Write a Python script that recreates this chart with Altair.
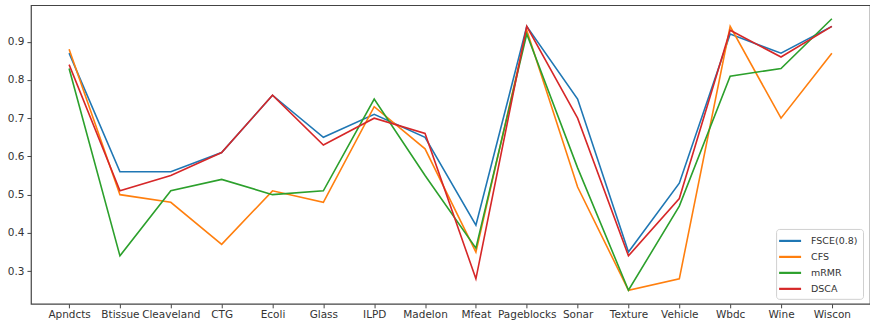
import altair as alt
import pandas as pd

# Accuracy of four feature-selection methods on sixteen datasets
datasets = ["Apndcts", "Btissue", "Cleaveland", "CTG", "Ecoli", "Glass", "ILPD",
            "Madelon", "Mfeat", "Pageblocks", "Sonar", "Texture", "Vehicle",
            "Wbdc", "Wine", "Wiscon"]
methods = ["FSCE(0.8)", "CFS", "mRMR", "DSCA"]
colors = ["#1f77b4", "#ff7f0e", "#2ca02c", "#d62728"]

fsce = [0.87, 0.56, 0.56, 0.61, 0.76, 0.65, 0.71, 0.65, 0.42, 0.94, 0.75, 0.35, 0.53, 0.92, 0.87, 0.94]
cfs = [0.88, 0.50, 0.48, 0.37, 0.51, 0.48, 0.73, 0.62, 0.35, 0.93, 0.52, 0.25, 0.28, 0.94, 0.70, 0.87]
mrmr = [0.83, 0.34, 0.51, 0.54, 0.50, 0.51, 0.75, 0.55, 0.36, 0.92, 0.57, 0.25, 0.47, 0.81, 0.83, 0.96]
dsca = [0.84, 0.51, 0.55, 0.61, 0.76, 0.63, 0.70, 0.66, 0.28, 0.94, 0.70, 0.34, 0.49, 0.93, 0.86, 0.94]

y_ticks = [0.3, 0.4, 0.5, 0.6, 0.7, 0.8, 0.9]

rows = []
for order, (name, vals) in enumerate(zip(methods, [fsce, cfs, mrmr, dsca])):
    for ds, v in zip(datasets, vals):
        rows.append({"dataset": ds, "method": name, "value": v, "order": order})
df = pd.DataFrame(rows)

font = "DejaVu Sans"

chart = alt.Chart(df).mark_line(strokeWidth=1.6).encode(
    x=alt.X("dataset:N", sort=datasets,
            scale=alt.Scale(type="point", padding=0.75),
            axis=alt.Axis(title=None, labelAngle=0, tickSize=4, labelPadding=2)),
    y=alt.Y("value:Q",
            scale=alt.Scale(domain=[0.2145, 0.9955], nice=False, zero=False),
            axis=alt.Axis(title=None, values=y_ticks, format=".1f", grid=False,
                          tickSize=4, labelPadding=3)),
    color=alt.Color("method:N", sort=methods,
                    scale=alt.Scale(domain=methods, range=colors),
                    legend=alt.Legend(title=None, orient="none",
                                      legendX=746, legendY=224,
                                      symbolType="M-2,0H2", symbolSize=121,
                                      symbolStrokeWidth=2.2, symbolOffset=2,
                                      labelFontSize=9.5, labelColor="#333",
                                      labelFont=font, labelOffset=14,
                                      rowPadding=4, padding=5, cornerRadius=3,
                                      strokeColor="#d0d0d0", fillColor="white")),
    order=alt.Order("order:Q"),
).properties(
    width=840, height=299,
    autosize=alt.AutoSizeParams(type="none"),
    padding={"left": 31, "top": 5, "right": 0, "bottom": 22},
).configure_view(
    stroke="#444", strokeWidth=1.2
).configure_axis(
    domain=False, tickColor="#444", labelColor="#333",
    labelFont=font, labelFontSize=10.5
)

chart.save("out.html", embed_options={"renderer": "svg", "actions": False})
